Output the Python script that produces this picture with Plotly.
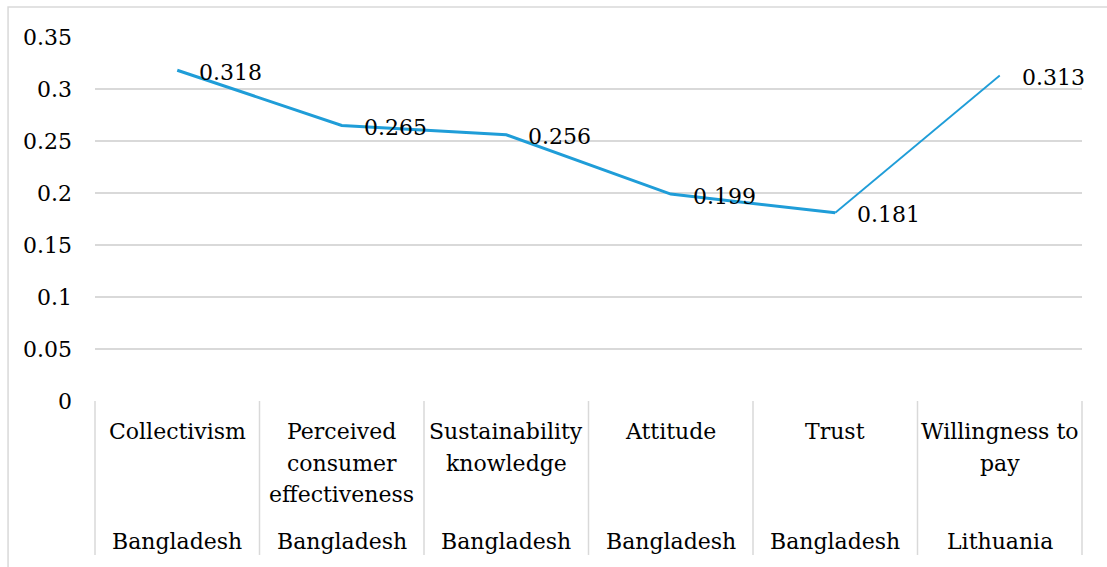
import plotly.graph_objects as go

# Data
factors = ["Collectivism", "Perceived consumer effectiveness", "Sustainability knowledge",
           "Attitude", "Trust", "Willingness to pay"]
factor_lines = [["Collectivism"], ["Perceived", "consumer", "effectiveness"],
                ["Sustainability", "knowledge"], ["Attitude"], ["Trust"],
                ["Willingness to", "pay"]]
countries = ["Bangladesh", "Bangladesh", "Bangladesh", "Bangladesh", "Bangladesh", "Lithuania"]
values = [0.318, 0.265, 0.256, 0.199, 0.181, 0.313]
y_ticks = [0, 0.05, 0.1, 0.15, 0.2, 0.25, 0.3, 0.35]
y_tick_text = ["0", "0.05", "0.1", "0.15", "0.2", "0.25", "0.3", "0.35"]

FONT = "DejaVu Serif, serif"
LINE = "#1f9dd8"
GRID = "#d9d9d9"
FS = 22

idx = list(range(len(factors)))
fig = go.Figure()

# main line (thicker part) and final segment
fig.add_trace(go.Scatter(x=idx[:-1], y=values[:-1], mode="lines",
                         line=dict(color=LINE, width=3), hoverinfo="skip", showlegend=False))
fig.add_trace(go.Scatter(x=idx[-2:], y=values[-2:], mode="lines",
                         line=dict(color=LINE, width=1.8), hoverinfo="skip", showlegend=False))

n = len(factors)
annotations = []
# data labels
for i, v in zip(idx, values):
    annotations.append(dict(x=i, y=v, xref="x", yref="y", text=f"{v:.3f}", showarrow=False,
                            xanchor="left", yanchor="middle", xshift=20, yshift=-2,
                            font=dict(family=FONT, size=FS, color="black")))

shapes = []
# category separators
for i in range(n + 1):
    shapes.append(dict(type="line", xref="paper", yref="paper", x0=i / n, x1=i / n,
                       y0=0, y1=-0.423, line=dict(color=GRID, width=1.5)))
# outer chart frame
shapes.append(dict(type="rect", xref="paper", yref="paper", x0=-0.0881, x1=1.2,
                   y0=-1.0, y1=1.0824, line=dict(color=GRID, width=1.5), layer="below"))

px_per_paper = 364.0
for i, lines in enumerate(factor_lines):
    for j, t in enumerate(lines):
        yp = -(31 + 31 * j) / px_per_paper
        annotations.append(dict(x=(i + 0.5) / n, y=yp, xref="paper", yref="paper",
                                text=t, showarrow=False, yanchor="middle", xanchor="center",
                                font=dict(family=FONT, size=FS, color="black")))
    annotations.append(dict(x=(i + 0.5) / n, y=-140 / px_per_paper, xref="paper", yref="paper",
                            text=countries[i], showarrow=False, yanchor="middle", xanchor="center",
                            font=dict(family=FONT, size=FS, color="black")))

fig.update_layout(
    width=1107, height=567,
    margin=dict(l=95, r=25, t=37, b=166),
    paper_bgcolor="white", plot_bgcolor="white",
    font=dict(family=FONT),
    xaxis=dict(range=[-0.5, n - 0.5], showticklabels=False, showgrid=False,
               zeroline=False, showline=False, fixedrange=True),
    yaxis=dict(range=[0, 0.35], tickvals=y_ticks, ticktext=y_tick_text,
               showgrid=True, gridcolor=GRID, gridwidth=1.5, zeroline=False,
               showline=False, ticks="", ticklabelstandoff=22,
               tickfont=dict(family=FONT, size=FS, color="black")),
    shapes=shapes, annotations=annotations,
)

fig.write_html("out.html")
